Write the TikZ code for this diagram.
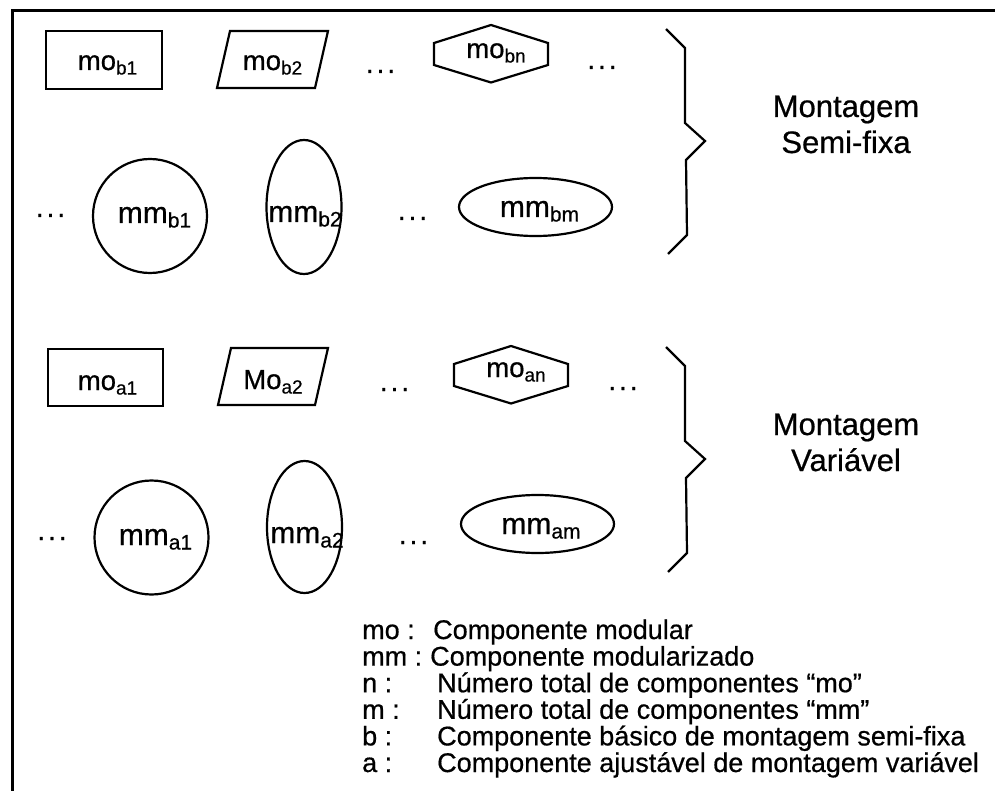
\documentclass[tikz,border=0pt]{standalone}
\usepackage{fontspec}
\setmainfont{Liberation Sans}[FakeBold=0.6]
\newcommand{\mosub}[1]{\raisebox{-4.5pt}{\fontsize{19}{19}\selectfont #1}}
\newcommand{\mmsub}[1]{\raisebox{-4.5pt}{\fontsize{21}{21}\selectfont #1}}
\newcommand{\threedots}{.\hspace{3pt}.\hspace{3pt}.}
\tikzset{
  shapeline/.style={line width=2.2pt, line join=miter},
  framebox/.style={line width=3pt, line join=miter},
  molbl/.style={anchor=base, inner sep=0pt, font=\fontsize{27.5}{27.5}\selectfont},
  mmlbl/.style={anchor=base, inner sep=0pt, font=\fontsize{30}{30}\selectfont},
  ellipsisdots/.style={anchor=base, inner sep=0pt, font=\fontsize{28}{28}\selectfont},
  grouptitle/.style={anchor=base, inner sep=0pt, font=\fontsize{31}{31}\selectfont},
  legendtxt/.style={anchor=base west, inner sep=0pt, font=\fontsize{27}{27}\selectfont},
}
\begin{document}
\begin{tikzpicture}[x=1pt, y=-1pt]
\useasboundingbox (0,0) rectangle (995,791);

% outer frame (continues past the right and bottom edges)
\draw[framebox] (995,11) -- (12,11) -- (12,791);

% ---------------- Montagem semi-fixa ----------------
% modular components
\node[molbl] (mob1) at (107.5,70) {mo\mosub{b1}};
\draw[shapeline] (mob1.base) ++(-61.5,-39) rectangle ++(116,58);

\node[molbl] (mob2) at (272.5,70) {mo\mosub{b2}};
\draw[shapeline] (mob2.base) ++(-55.5,18) -- ++(98,0) -- ++(13,-57) -- ++(-98,0) -- cycle;

\node[ellipsisdots] (dotsA) at (380.5,73) {\threedots};

\node[molbl] (mobn) at (496,58) {mo\mosub{bn}};
\draw[shapeline] (mobn.base) ++(-5,-33) -- ++(-57,18) -- ++(0,22) -- ++(57,17.5)
  -- ++(57,-17.5) -- ++(0,-22) -- cycle;

\node[ellipsisdots] (dotsB) at (602,69) {\threedots};

% modularized components
\node[ellipsisdots] (dotsC) at (50.5,217) {\threedots};

\coordinate (cb1) at (150,216);
\draw[shapeline] (cb1) circle [radius=57];
\node[mmlbl] (mmb1) at (154.5,223) {mm\mmsub{b1}};

\coordinate (cb2) at (304,207);
\draw[shapeline] (cb2) ellipse [x radius=37.5, y radius=67];
\node[mmlbl] (mmb2) at (305,222) {mm\mmsub{b2}};

\node[ellipsisdots] (dotsD) at (412.5,220) {\threedots};

\coordinate (cbm) at (535.5,207);
\draw[shapeline] (cbm) ellipse [x radius=76.5, y radius=29];
\node[mmlbl] (mmbm) at (539.5,217) {mm\mmsub{bm}};

% brace and title
\draw[shapeline] (666,29) -- (685,48) -- (685,123) -- (705,141) -- (686,160)
  -- (687,235) -- (668,254);
\node[grouptitle] (titleSa) at (846,117) {Montagem};
\node[grouptitle] (titleSb) at (846,153) {Semi-fixa};

% ---------------- Montagem variavel ----------------
\node[molbl] (moa1) at (107.5,390) {mo\mosub{a1}};
\draw[shapeline] (moa1.base) ++(-59.5,-41) rectangle ++(115,57);

\node[molbl] (moa2) at (273,389) {Mo\mosub{a2}};
\draw[shapeline] (moa2.base) ++(-55,16) -- ++(97,0) -- ++(13,-57) -- ++(-97,0) -- cycle;

\node[ellipsisdots] (dotsE) at (394.5,391) {\threedots};

\node[molbl] (moan) at (516,377) {mo\mosub{an}};
\draw[shapeline] (moan.base) ++(-5,-31) -- ++(-57,18) -- ++(0,22) -- ++(57,17.5)
  -- ++(57,-17.5) -- ++(0,-22) -- cycle;

\node[ellipsisdots] (dotsF) at (623,390) {\threedots};

\node[ellipsisdots] (dotsG) at (52,540) {\threedots};

\coordinate (ca1) at (151.5,537.5);
\draw[shapeline] (ca1) circle [radius=57];
\node[mmlbl] (mma1) at (155.5,545) {mm\mmsub{a1}};

\coordinate (ca2) at (304.5,527);
\draw[shapeline] (ca2) ellipse [x radius=37.5, y radius=66];
\node[mmlbl] (mma2) at (307,543) {mm\mmsub{a2}};

\node[ellipsisdots] (dotsH) at (413.5,544) {\threedots};

\coordinate (cam) at (537.5,524);
\draw[shapeline] (cam) ellipse [x radius=76.5, y radius=29];
\node[mmlbl] (mmam) at (541,534) {mm\mmsub{am}};

\draw[shapeline] (666,347) -- (685,366) -- (685,441) -- (705,459) -- (686,478)
  -- (687,553) -- (668,572);
\node[grouptitle] (titleVa) at (846,435) {Montagem};
\node[grouptitle] (titleVb) at (846,471) {Variável};

% ---------------- legend ----------------
\node[legendtxt] (kmo) at (362,639) {mo :};
\node[legendtxt] (vmo) at (433,639) {Componente modular};
\node[legendtxt] (kmm) at (362,665.6) {mm :};
\node[legendtxt] (vmm) at (430,665.6) {Componente modularizado};
\node[legendtxt] (kn) at (362,692.2) {n :};
\node[legendtxt] (vn) at (437,692.2) {Número total de componentes “mo”};
\node[legendtxt] (km) at (362,718.8) {m :};
\node[legendtxt] (vm) at (437,718.8) {Número total de componentes “mm”};
\node[legendtxt] (kb) at (362,745.4) {b :};
\node[legendtxt] (vb) at (437,745.4) {Componente básico de montagem semi-fixa};
\node[legendtxt] (ka) at (362,772) {a :};
\node[legendtxt] (va) at (437,772) {Componente ajustável de montagem variável};
\end{tikzpicture}
\end{document}
